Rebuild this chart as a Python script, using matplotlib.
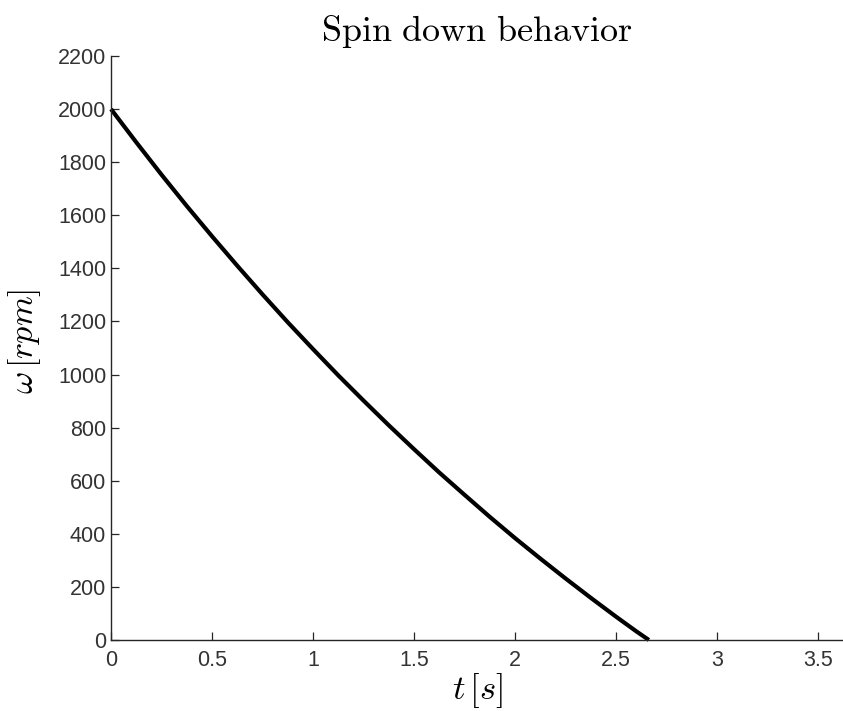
import matplotlib
matplotlib.use("Agg")
import matplotlib.pyplot as plt

t_s = [0.0, 0.125, 0.25, 0.375, 0.5, 0.625, 0.75, 0.875, 1.0, 1.125, 1.25,
       1.375, 1.5, 1.625, 1.75, 1.875, 2.0, 2.125, 2.25, 2.375, 2.5, 2.6, 2.663]
omega_rpm = [2000, 1875, 1753, 1635, 1521, 1410, 1302, 1197, 1096, 997, 902,
             809, 719, 631, 547, 464, 384, 307, 232, 159, 88, 33, 0]

x_ticks = [0, 0.5, 1, 1.5, 2, 2.5, 3, 3.5]
x_tick_labels = ["0", "0.5", "1", "1.5", "2", "2.5", "3", "3.5"]
y_ticks = list(range(0, 2201, 200))

plt.rcParams['mathtext.fontset'] = 'cm'
gray = '#262626'

fig = plt.figure(figsize=(8.43, 7.11), dpi=100)
ax = fig.add_axes([111/843, 1 - 640/711, 1 - 111/843, (640 - 56)/711])
ax.plot(t_s, omega_rpm, color='black', lw=3.0, solid_capstyle='butt',
        solid_joinstyle='round', clip_on=False)

ax.set_xlim(0, 3.624)
ax.set_ylim(0, 2200)
ax.set_xticks(x_ticks)
ax.set_xticklabels(x_tick_labels)
ax.set_yticks(y_ticks)
ax.set_yticklabels([str(v) for v in y_ticks])

for s in ['top', 'right']:
    ax.spines[s].set_visible(False)
for s in ['left', 'bottom']:
    ax.spines[s].set_color(gray)
    ax.spines[s].set_linewidth(1.0)

ax.tick_params(direction='in', length=5.5, width=0.9, color=gray,
               labelcolor='#333333', labelsize=15.5)
ax.tick_params(axis='x', pad=7)
for lab in ax.get_xticklabels() + ax.get_yticklabels():
    lab.set_fontfamily('Liberation Sans')

ax.set_title(r'$\mathrm{Spin\ down\ behavior}$', fontsize=26, pad=11, color='black')
ax.set_xlabel(r'$t\,[s]$', fontsize=25, labelpad=0)
ax.set_ylabel(r'$\omega\,[rpm]$', fontsize=24.5)
ax.yaxis.set_label_coords(-0.093, 0.512)

fig.savefig('out.png', dpi=100)
